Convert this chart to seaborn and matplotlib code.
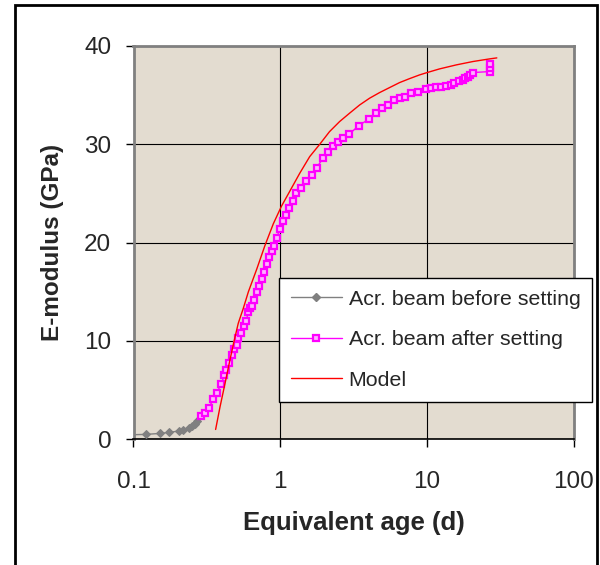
import matplotlib
matplotlib.use("Agg")
import matplotlib.pyplot as plt
from matplotlib.lines import Line2D
from matplotlib.patches import Rectangle
import seaborn as sns
import pandas as pd

# ---- data ----
before_age = [0.09, 0.122, 0.152, 0.175, 0.205, 0.216, 0.240, 0.249, 0.262, 0.272]
before_E = [0.45, 0.5, 0.6, 0.7, 0.85, 0.9, 1.2, 1.35, 1.6, 1.9]

after_age = [0.288, 0.307, 0.327, 0.350, 0.369, 0.395, 0.416, 0.425, 0.448, 0.466,
             0.486, 0.505, 0.518, 0.540, 0.570, 0.584, 0.607, 0.622, 0.639, 0.663,
             0.691, 0.721, 0.748, 0.776, 0.809, 0.843, 0.875, 0.908, 0.946, 0.997,
             1.05, 1.10, 1.15, 1.23, 1.29, 1.38, 1.50, 1.64, 1.77, 1.96,
             2.12, 2.29, 2.48, 2.68, 2.94, 3.43, 4.01, 4.52, 4.96, 5.46,
             5.96, 6.52, 7.13, 7.83, 8.69, 9.91, 10.7, 11.6, 12.5, 13.6,
             14.5, 15.4, 16.5, 17.6, 18.3, 19.0, 19.8, 20.6, 26.8, 26.8, 27.0]
after_E = [2.4, 2.7, 3.2, 4.1, 4.7, 5.6, 6.5, 7.0, 7.8, 8.6,
           9.2, 9.6, 10.3, 10.8, 11.5, 12.0, 12.9, 13.4, 13.6, 14.2,
           15.0, 15.6, 16.3, 17.0, 17.8, 18.5, 19.1, 19.7, 20.5, 21.4,
           22.2, 22.8, 23.5, 24.2, 25.0, 25.6, 26.3, 26.9, 27.6, 28.6,
           29.2, 29.8, 30.2, 30.6, 31.0, 31.9, 32.55, 33.2, 33.7, 34.0,
           34.5, 34.7, 34.85, 35.2, 35.35, 35.6, 35.7, 35.8, 35.85, 35.95,
           36.05, 36.2, 36.4, 36.55, 36.7, 36.8, 37.05, 37.3, 37.4, 37.8, 38.2]

model_age = [0.363, 0.389, 0.421, 0.455, 0.487, 0.518, 0.560, 0.607, 0.692, 0.787,
             0.897, 1.02, 1.16, 1.36, 1.59, 1.86, 2.17, 2.54, 2.97, 3.48,
             4.07, 4.76, 5.57, 6.52, 7.62, 8.92, 10.0, 12.2, 15.9, 20.6,
             26.8, 30.0]
model_E = [1.0, 3.3, 5.7, 8.1, 10.1, 11.8, 13.3, 15.0, 17.3, 19.7,
           21.9, 23.7, 25.2, 27.06, 28.75, 30.0, 31.29, 32.31, 33.16, 34.0,
           34.69, 35.26, 35.77, 36.28, 36.68, 37.06, 37.29, 37.67, 38.08, 38.42,
           38.69, 38.79]

x_ticks = [0.1, 1, 10, 100]
x_tick_labels = ["0.1", "1", "10", "100"]
y_ticks = [0, 10, 20, 30, 40]
series_names = ["Acr. beam before setting", "Acr. beam after setting", "Model"]
x_title = "Equivalent age (d)"
y_title = "E-modulus (GPa)"

# ---- styling ----
sns.set_style("white")
plt.rcParams["font.family"] = ["Liberation Sans", "DejaVu Sans"]

W, H = 600, 565
fig = plt.figure(figsize=(W / 100, H / 100), dpi=100)
ax = fig.add_axes([133.5 / W, 1 - 439.3 / H, 440 / W, 393.3 / H])
ax.set_facecolor("#E3DCD0")

df_before = pd.DataFrame({"age": before_age, "E": before_E})
df_after = pd.DataFrame({"age": after_age, "E": after_E})
df_model = pd.DataFrame({"age": model_age, "E": model_E})

sns.lineplot(data=df_before, x="age", y="E", ax=ax, sort=False, estimator=None,
             color="#808080", lw=1, marker="D", markersize=4.5,
             markeredgecolor="#808080", markerfacecolor="#808080", zorder=3)
sns.lineplot(data=df_after, x="age", y="E", ax=ax, sort=False, estimator=None,
             color="#FF00FF", lw=1, marker="s", markersize=4.5,
             markeredgecolor="#FF00FF", markerfacecolor="#FFB0FF",
             markeredgewidth=1.6, zorder=4)
sns.lineplot(data=df_model, x="age", y="E", ax=ax, sort=False, estimator=None,
             color="#FF0000", lw=1, zorder=5)

ax.set_xscale("log")
ax.set_xlim(0.1, 100)
ax.set_ylim(0, 40)
ax.set_xticks(x_ticks)
ax.set_xticklabels(x_tick_labels)
ax.xaxis.set_minor_locator(matplotlib.ticker.NullLocator())
ax.set_yticks(y_ticks)

ax.grid(True, which="major", color="black", lw=0.8)
ax.set_axisbelow(True)

for s in ["left", "top", "right"]:
    ax.spines[s].set_color("#808080")
    ax.spines[s].set_linewidth(2)
ax.spines["bottom"].set_color("black")
ax.spines["bottom"].set_linewidth(1.2)

ax.tick_params(axis="x", direction="out", length=6, width=1, color="black",
               labelsize=17.5, pad=17, bottom=True)
ax.tick_params(axis="y", direction="out", length=6, width=1, color="black",
               labelsize=17.5, pad=10, left=True)

ax.set_xlabel(x_title, fontsize=18.5, fontweight="bold")
ax.set_ylabel(y_title, fontsize=17.5, fontweight="bold")
ax.xaxis.set_label_coords(0.5, -0.183)
ax.yaxis.set_label_coords(-0.158, 0.5)

handles = [
    Line2D([], [], color="#808080", lw=1, marker="D", markersize=4,
           markerfacecolor="#808080", markeredgecolor="#808080"),
    Line2D([], [], color="#FF00FF", lw=1, marker="s", markersize=4.5,
           markerfacecolor="#FFB0FF", markeredgecolor="#FF00FF", markeredgewidth=1.6),
    Line2D([], [], color="#FF0000", lw=1),
]
leg = ax.legend(handles, series_names, loc="upper left",
                bbox_to_anchor=(279 / W, 1 - 278 / H), bbox_transform=fig.transFigure,
                fontsize=15.4, frameon=True, fancybox=False, shadow=False,
                framealpha=1, edgecolor="black", facecolor="white",
                borderpad=0.55, labelspacing=1.01, handlelength=2.4,
                handletextpad=0.3, borderaxespad=0, numpoints=1)
leg.get_frame().set_linewidth(1)
leg.set_zorder(10)

# figure frame
fig.patches.append(Rectangle((15 / W, -0.01), (597 - 15) / W, 1.01 - 4.5 / H,
                             transform=fig.transFigure, fill=False,
                             edgecolor="black", lw=2))

fig.savefig("out.png", dpi=100)
